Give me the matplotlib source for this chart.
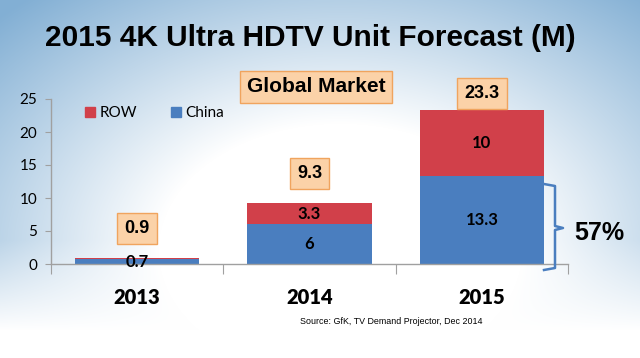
import numpy as np
import matplotlib
matplotlib.use("Agg")
import matplotlib.pyplot as plt
from matplotlib.patches import Patch

years = ["2013", "2014", "2015"]
china = [0.7, 6, 13.3]
row = [0.2, 3.3, 10]
totals = ["0.9", "9.3", "23.3"]
china_labels = ["0.7", "6", "13.3"]
row_labels = ["", "3.3", "10"]
yticks = [0, 5, 10, 15, 20, 25]

BLUE = "#4A7EBF"
RED = "#D1404A"
W, H = 640, 358

fig = plt.figure(figsize=(W / 100, H / 100), dpi=100)

# background gradient
bg = fig.add_axes([0, 0, 1, 1], zorder=-10)
yy, xx = np.mgrid[0:H, 0:W]
d = np.sqrt(((xx - 340) / 330.0) ** 2 + ((yy - 250) / 230.0) ** 2)
t = np.clip((d - 0.55) / 0.9, 0, 1)
v = np.clip((330 - yy) / 90.0, 0, 1)
t = t * v
blue = np.array([130, 175, 212]) / 255.0
img = 1 - t[..., None] * (1 - blue[None, None, :])
bg.imshow(img, aspect="auto", extent=[0, 1, 0, 1], origin="upper")
bg.set_axis_off()

ax = fig.add_axes([51 / W, 1 - 264 / H, (568 - 51) / W, (264 - 99) / H])
ax.set_facecolor("none")
x = np.arange(len(years))
bw = 0.72
ax.bar(x, china, bw, color=BLUE, label="China", zorder=2)
ax.bar(x, row, bw, bottom=china, color=RED, label="ROW", zorder=2)

ax.set_xlim(-0.5, 2.5)
ax.set_ylim(0, 25)
ax.set_yticks(yticks)
ax.set_yticklabels([str(v) for v in yticks], family="Lato", fontsize=11)
ax.tick_params(axis="y", direction="out", length=4, color="#A0A0A0", pad=6)
ax.set_xticks([-0.5, 0.5, 1.5, 2.5])
ax.set_xticklabels([])
ax.tick_params(axis="x", direction="out", length=7, color="#A0A0A0")
for s in ["top", "right"]:
    ax.spines[s].set_visible(False)
for s in ["left", "bottom"]:
    ax.spines[s].set_color("#A0A0A0")
    ax.spines[s].set_linewidth(1)

for i, yr in enumerate(years):
    ax.text(i, -0.2, yr, transform=ax.get_xaxis_transform(), ha="center", va="center",
            fontsize=14.5, fontweight="heavy", family="Lato")

for i in range(len(years)):
    ax.text(x[i], china[i] / 2, china_labels[i], ha="center", va="center",
            fontsize=12, fontweight="bold", family="Lato", zorder=5, clip_on=False)
    if row_labels[i]:
        ax.text(x[i], china[i] + row[i] / 2, row_labels[i], ha="center", va="center",
                fontsize=12, fontweight="bold", family="Lato", zorder=5)

box = dict(boxstyle="square,pad=0.4", fc="#FBD2A8", ec="#F0A45E", lw=1)
offsets_pt = [15, 15, 6]
for i in range(len(years)):
    ax.annotate(totals[i], (x[i], china[i] + row[i]), xytext=(0, offsets_pt[i]),
                textcoords="offset points", ha="center", va="bottom",
                fontsize=13, fontweight="bold", family="Liberation Sans",
                bbox=box, zorder=6, annotation_clip=False)

handles = [Patch(color=RED), Patch(color=BLUE)]
leg = ax.legend(handles, ["ROW", "China"], loc="upper left", bbox_to_anchor=(0.04, 1.04),
                ncol=2, frameon=False, handlelength=0.65, handleheight=0.65,
                handletextpad=0.3, columnspacing=2.2, prop=dict(family="Lato", size=11))

fig.text(0.485, 1 - 38 / H, "2015 4K Ultra HDTV Unit Forecast (M)", ha="center", va="center",
         fontsize=21.5, fontweight="bold", family="Liberation Sans")
fig.text(316 / W, 1 - 87 / H, "Global Market", ha="center", va="center", fontsize=15,
         fontweight="bold", family="Liberation Sans",
         bbox=dict(boxstyle="square,pad=0.3", fc="#FBD2A8", ec="#F0A45E", lw=1))

# brace
bx = np.array([544, 555, 555, 563, 555, 555, 544])
by = np.array([184, 186, 226, 228, 230, 268, 270])
fig.add_artist(plt.Line2D(bx / W, 1 - by / H, color=BLUE, lw=1.8, transform=fig.transFigure))
fig.text(599 / W, 1 - 233 / H, "57%", ha="center", va="center", fontsize=18,
         fontweight="bold", family="Liberation Sans")

fig.text(482 / W, 1 - 322 / H, "Source: GfK, TV Demand Projector, Dec 2014", ha="right",
         va="center", fontsize=6.4, family="Liberation Sans")

fig.savefig("out.png", dpi=100)
